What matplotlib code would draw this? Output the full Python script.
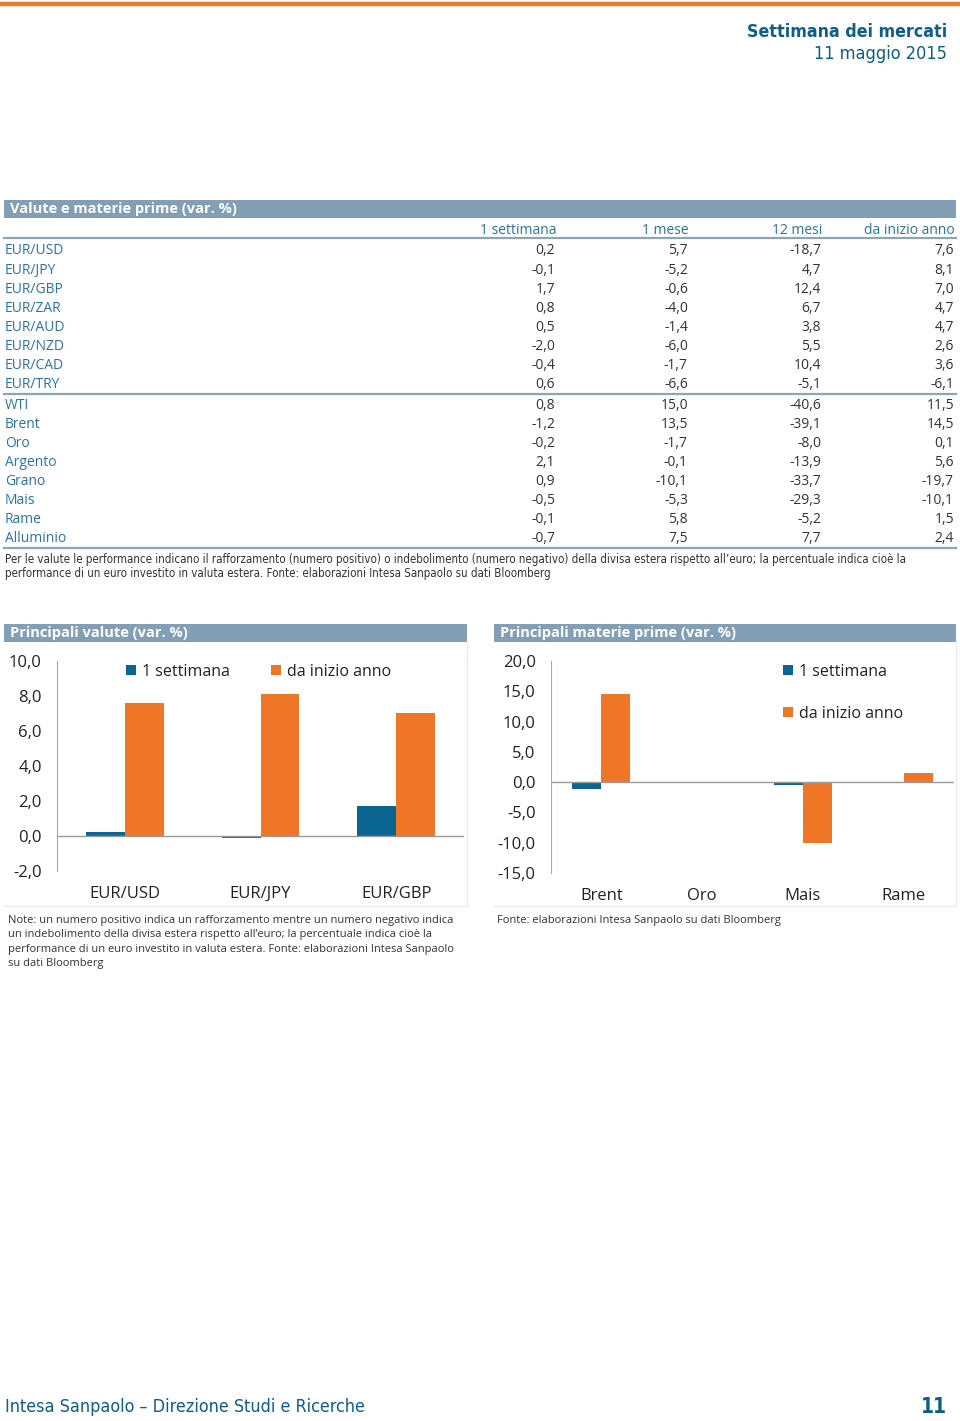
import numpy as np
import matplotlib
matplotlib.use('Agg')
import matplotlib.pyplot as plt
from matplotlib.patches import Rectangle
from matplotlib.lines import Line2D
from matplotlib.ticker import FuncFormatter
from matplotlib import font_manager

# dati tabella
valute = ['EUR/USD', 'EUR/JPY', 'EUR/GBP', 'EUR/ZAR', 'EUR/AUD', 'EUR/NZD', 'EUR/CAD', 'EUR/TRY']
materie = ['WTI', 'Brent', 'Oro', 'Argento', 'Grano', 'Mais', 'Rame', 'Alluminio']
colonne = ['1 settimana', '1 mese', '12 mesi', 'da inizio anno']
sett = [0.2, -0.1, 1.7, 0.8, 0.5, -2.0, -0.4, 0.6, 0.8, -1.2, -0.2, 2.1, 0.9, -0.5, -0.1, -0.7]
mese = [5.7, -5.2, -0.6, -4.0, -1.4, -6.0, -1.7, -6.6, 15.0, 13.5, -1.7, -0.1, -10.1, -5.3, 5.8, 7.5]
mesi12 = [-18.7, 4.7, 12.4, 6.7, 3.8, 5.5, 10.4, -5.1, -40.6, -39.1, -8.0, -13.9, -33.7, -29.3, -5.2, 7.7]
ytd = [7.6, 8.1, 7.0, 4.7, 4.7, 2.6, 3.6, -6.1, 11.5, 14.5, 0.1, 5.6, -19.7, -10.1, 1.5, 2.4]

# categorie dei grafici
cat_valute = ['EUR/USD', 'EUR/JPY', 'EUR/GBP']
cat_materie = ['Brent', 'Oro', 'Mais', 'Rame']

W, H = 960, 1421
BLU = '#0E5E87'
TXT = '#2A73A8'
BAR = '#829FB6'
TEAL = '#0A6690'
ORANGE = '#EF7627'
plt.rcParams['font.family'] = ['Open Sans', 'DejaVu Sans']

# font stretto se disponibile
names = set(f.name for f in font_manager.fontManager.ttflist)
if 'Liberation Sans Narrow' in names:
    NARROW = dict(family=['Liberation Sans Narrow'])
else:
    NARROW = dict(family=['DejaVu Sans'], stretch='condensed')


def fx(x):
    return x / W


def fy(y):
    return 1 - y / H


def fmt(v):
    return ('%.1f' % v).replace('.', ',')


fig = plt.figure(figsize=(W / 100, H / 100), dpi=100)

# intestazione
fig.add_artist(Line2D([0, 1], [fy(4), fy(4)], color='#E8782A', lw=3.2))
fig.text(fx(947), fy(32), 'Settimana dei mercati', ha='right', va='center', fontsize=12.8,
         fontweight='bold', color=BLU, **NARROW)
fig.text(fx(947), fy(54), '11 maggio 2015', ha='right', va='center', fontsize=13,
         color=BLU, **NARROW)

# tabella
fig.add_artist(Rectangle((fx(4), fy(218)), fx(952), 18 / H, color=BAR, lw=0))
fig.text(fx(10), fy(209.5), 'Valute e materie prime (var. %)', ha='left', va='center',
         fontsize=10.5, fontweight='bold', color='white')
col_x = [555, 688, 821, 954]
for c, x in zip(colonne, col_x):
    fig.text(fx(x + 1), fy(230), c, ha='right', va='center', fontsize=10, color=TXT)
for y in [238, 393.5, 548]:
    fig.add_artist(Line2D([fx(4), fx(956)], [fy(y), fy(y)], color='#8EA5B8', lw=1.6))

nomi = valute + materie
for i, nome in enumerate(nomi):
    if i < 8:
        y = 251 + 19.1 * i
    else:
        y = 405 + 19.14 * (i - 8)
    fig.text(fx(5), fy(y), nome, ha='left', va='center', fontsize=10, color=TXT)
    for vals, x in zip([sett, mese, mesi12, ytd], col_x):
        fig.text(fx(x), fy(y), fmt(vals[i]), ha='right', va='center', fontsize=10, color='#333333')

fig.text(fx(5), fy(560), "Per le valute le performance indicano il rafforzamento (numero positivo) o indebolimento "
         "(numero negativo) della divisa estera rispetto all\u2019euro; la percentuale indica cioè la",
         ha='left', va='center', fontsize=8.3, color='#333333', **NARROW)
fig.text(fx(5), fy(574), "performance di un euro investito in valuta estera. Fonte: elaborazioni Intesa Sanpaolo su dati Bloomberg",
         ha='left', va='center', fontsize=8.3, color='#333333', **NARROW)


def grafico(rect, cats, titolo, bar_x, bar_w, ylim, step, leg_pos, ncol):
    fig.add_artist(Rectangle((fx(bar_x), fy(642)), fx(bar_w), 18 / H, color=BAR, lw=0))
    fig.text(fx(bar_x + 6), fy(633.5), titolo, ha='left', va='center', fontsize=10.5,
             fontweight='bold', color='white')
    # cornice leggera
    fig.add_artist(Line2D([fx(bar_x), fx(bar_x + bar_w)], [fy(906), fy(906)], color='#EBEBEB', lw=1))
    fig.add_artist(Line2D([fx(bar_x + bar_w), fx(bar_x + bar_w)], [fy(642), fy(906)], color='#EBEBEB', lw=1))

    idx = [nomi.index(c) for c in cats]
    s = [sett[i] for i in idx]
    a = [ytd[i] for i in idx]
    x = np.arange(len(cats))
    w = 0.287
    ax = fig.add_axes(rect)
    ax.bar(x - w / 2, s, w, color=TEAL, label='1 settimana')
    ax.bar(x + w / 2, a, w, color=ORANGE, label='da inizio anno')
    ax.axhline(0, color='#9A9A9A', lw=1)
    ax.set_xlim(-0.5, len(cats) - 0.5)
    ax.set_ylim(*ylim)
    ax.set_yticks(np.arange(ylim[0], ylim[1] + step / 2, step))
    ax.yaxis.set_major_formatter(FuncFormatter(lambda v, p: fmt(v)))
    ax.set_xticks(x)
    ax.set_xticklabels(cats)
    ax.tick_params(axis='y', length=0, pad=11, labelsize=12, labelcolor='#222222')
    ax.tick_params(axis='x', length=0, pad=11, labelsize=12, labelcolor='#222222')
    for sp in ['top', 'right', 'bottom']:
        ax.spines[sp].set_visible(False)
    ax.spines['left'].set_color('#A8A8A8')
    ax.patch.set_alpha(0)
    leg = ax.legend(loc='upper left', bbox_to_anchor=(fx(leg_pos[0]), fy(leg_pos[1])),
                    bbox_transform=fig.transFigure, ncol=ncol, frameon=False, fontsize=11.5,
                    handlelength=0.6, handleheight=0.6, handletextpad=0.4,
                    columnspacing=2.6, labelspacing=1.6, borderaxespad=0, borderpad=0)
    for t in leg.get_texts():
        t.set_color('#222222')
    return ax


grafico([fx(57), fy(871), fx(464 - 57), 210 / H], cat_valute, 'Principali valute (var. %)',
        4, 463, (-2, 10), 2, (126, 664), 2)
grafico([fx(551), fy(873), fx(954 - 551), 212 / H], cat_materie, 'Principali materie prime (var. %)',
        494, 462, (-15, 20), 5, (783, 664), 1)

fig.text(fx(8), fy(915), "Note: un numero positivo indica un rafforzamento mentre un numero negativo indica\n"
         "un indebolimento della divisa estera rispetto all\u2019euro; la percentuale indica cioè la\n"
         "performance di un euro investito in valuta estera. Fonte: elaborazioni Intesa Sanpaolo\n"
         "su dati Bloomberg", ha='left', va='top', fontsize=8, color='#333333', linespacing=1.42)
fig.text(fx(497), fy(920), "Fonte: elaborazioni Intesa Sanpaolo su dati Bloomberg", ha='left', va='center',
         fontsize=8, color='#333333')

# piè di pagina
fig.text(fx(5), fy(1407), 'Intesa Sanpaolo \u2013 Direzione Studi e Ricerche', ha='left', va='center',
         fontsize=12.9, color=BLU, **NARROW)
fig.text(fx(947), fy(1407), '11', ha='right', va='center', fontsize=15, fontweight='bold',
         color=BLU, **NARROW)

fig.savefig('out.png', dpi=100)
